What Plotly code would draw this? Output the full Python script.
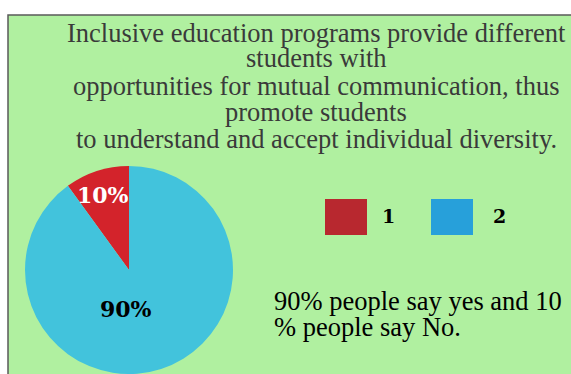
import plotly.graph_objects as go

# Survey result: share of answers per option
labels = ["1", "2"]
values = [10, 90]
slice_colors = ["#D3232B", "#42C3DC"]
legend_colors = ["#B8282F", "#27A0DA"]

title_lines = [
    "Inclusive education programs provide different",
    "students with",
    "opportunities for mutual communication, thus",
    "promote students",
    "to understand and accept individual diversity.",
]
note_lines = ["90% people say yes and 10", "% people say No."]

W, H = 571, 374
BG = "#B0F0A0"
TXT = 26.5


def px(x):
    return x / W


def py(y):
    return 1 - y / H


fig = go.Figure()

# Pie: the first slice ends at 12 o'clock, lying to its left
cx, cy, r = 129, 270, 104
total = sum(values)
fig.add_trace(go.Pie(
    labels=labels,
    values=values,
    marker=dict(colors=slice_colors, line=dict(width=0)),
    sort=False,
    direction="clockwise",
    rotation=-360 * values[0] / total,
    textinfo="none",
    hoverinfo="label+percent",
    showlegend=False,
    domain=dict(x=[px(cx - r), px(cx + r)], y=[py(cy + r), py(cy - r)]),
))

pct_text = [f"{round(v * 100 / total)}%" for v in values]
pct_pos = [(103, 195), (126, 309)]
pct_col = ["white", "black"]
annotations = []
for t, (x, y), c in zip(pct_text, pct_pos, pct_col):
    annotations.append(dict(
        x=px(x), y=py(y), xref="paper", yref="paper", text=f"<b>{t}</b>",
        showarrow=False, xanchor="center", yanchor="middle",
        font=dict(family="DejaVu Serif", size=22, color=c),
    ))

# Title block, one annotation per line for tight line spacing
title_base = [41, 67, 94, 120.5, 147]
for line, yb in zip(title_lines, title_base):
    annotations.append(dict(
        x=px(316), y=py(yb - 8.5), xref="paper", yref="paper",
        text=line, showarrow=False,
        xanchor="center", yanchor="middle",
        font=dict(family="Liberation Serif", size=TXT, color="#3A3A3A"),
    ))

# Note text
note_base = [309, 335]
for line, yb in zip(note_lines, note_base):
    annotations.append(dict(
        x=px(272), y=py(yb - 8.5), xref="paper", yref="paper",
        text=line, showarrow=False,
        xanchor="left", yanchor="middle",
        font=dict(family="Liberation Serif", size=TXT, color="black"),
    ))

shapes = [
    # framed green panel
    dict(type="rect", xref="paper", yref="paper",
         x0=px(8), x1=px(W + 20), y0=py(H + 20), y1=py(15),
         fillcolor=BG, line=dict(color="#5A5A5A", width=1.5), layer="below"),
]

# Custom legend swatches
sw_x = [325, 431]
lab_x = [388, 499]
for lab, col, x0, lx in zip(labels, legend_colors, sw_x, lab_x):
    shapes.append(dict(type="rect", xref="paper", yref="paper",
                       x0=px(x0), x1=px(x0 + 42), y0=py(235), y1=py(199),
                       fillcolor=col, line=dict(width=0), layer="above"))
    annotations.append(dict(
        x=px(lx), y=py(216), xref="paper", yref="paper", text=f"<b>{lab}</b>",
        showarrow=False, xanchor="center", yanchor="middle",
        font=dict(family="DejaVu Serif", size=19, color="black"),
    ))

fig.update_layout(
    width=W, height=H,
    margin=dict(l=0, r=0, t=0, b=0),
    paper_bgcolor="white",
    plot_bgcolor="white",
    shapes=shapes,
    annotations=annotations,
)

fig.write_html("out.html", config={"displayModeBar": False})
